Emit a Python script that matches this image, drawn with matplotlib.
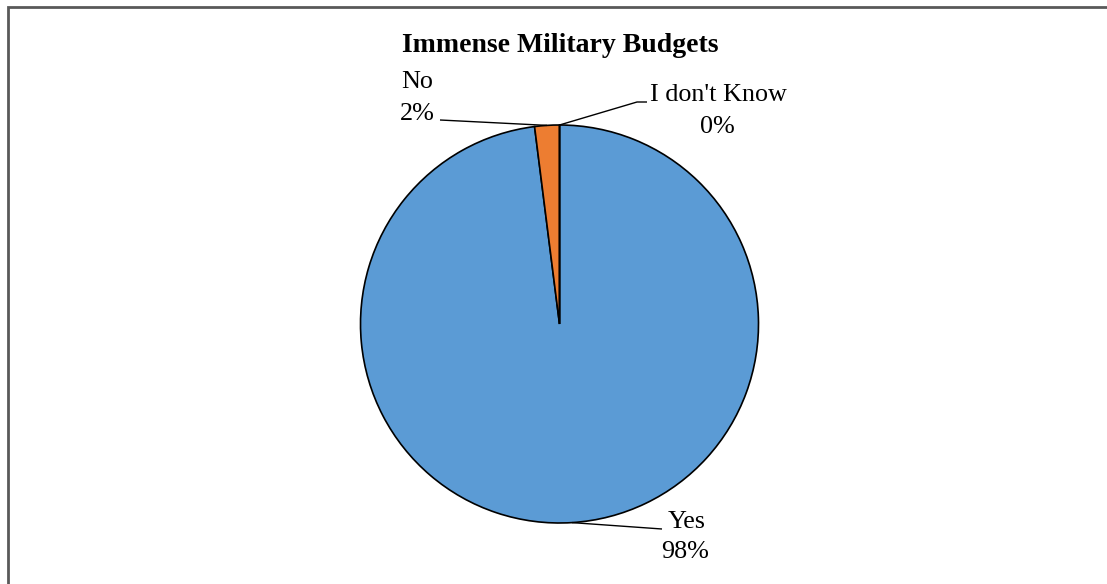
import matplotlib.pyplot as plt
import numpy as np

labels = ["Yes", "No", "I don't Know"]
values = [98, 2, 0]
colors = ["#5B9BD5", "#ED7D31", "#A5A5A5"]
title = "Immense Military Budgets"

W, H = 1107, 584
plt.rcParams['font.family'] = ['Liberation Serif', 'DejaVu Serif']

fig = plt.figure(figsize=(W / 100, H / 100), dpi=100)
ax = fig.add_axes([0, 0, 1, 1])

cx, cy, r = 559.5, H - 324, 199
wedges, _ = ax.pie(values, colors=colors, startangle=90, counterclock=False,
                   center=(cx, cy), radius=r, frame=True,
                   wedgeprops=dict(edgecolor='black', linewidth=1.2))
ax.set_xlim(0, W)
ax.set_ylim(0, H)
ax.set_aspect('equal')
ax.axis('off')


def edge_point(w):
    ang = np.deg2rad((w.theta1 + w.theta2) / 2)
    return cx + r * np.cos(ang), cy + r * np.sin(ang)


# label text position (top line, bottom line) and leader line path
label_pos = {
    "Yes": ((687, 522), (685, 552), [(662, 529)]),
    "No": ((417, 82), (417, 114), [(440, 120)]),
    "I don't Know": ((718, 95), (717, 127), [(637, 102), (647, 102)]),
}

for w, name, v in zip(wedges, labels, values):
    (x1, y1), (x2, y2), path = label_pos[name]
    px, py = edge_point(w)
    pts = [(px, py)] + [(x, H - y) for x, y in path]
    xs, ys = zip(*pts)
    ax.plot(xs, ys, color='black', linewidth=1.0, solid_capstyle='butt')
    ax.text(x1, H - y1, name, ha='center', va='center', fontsize=18.8)
    ax.text(x2, H - y2, f"{v}%", ha='center', va='center', fontsize=18.8)

ax.text(560, H - 45, title, ha='center', va='center', fontsize=20,
        fontweight='bold')

# chart frame (top and left edges)
ax.plot([7.5, 7.5, W], [0, H - 6.5, H - 6.5], color='#595959', linewidth=2,
        solid_joinstyle='miter')

fig.savefig('out.png', dpi=100)
